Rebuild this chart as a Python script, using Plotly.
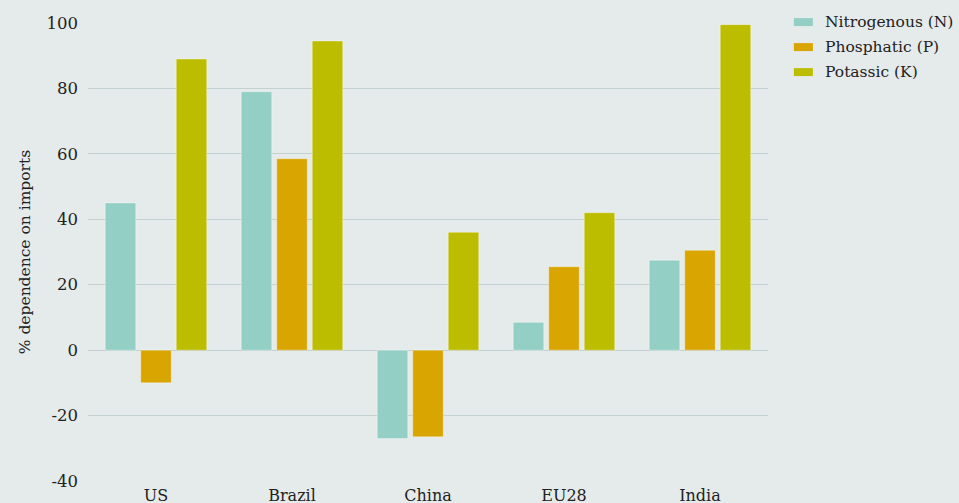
import plotly.graph_objects as go

# country groups and import dependence (%) per nutrient
COUNTRIES = ["US", "Brazil", "China", "EU28", "India"]
NITROGENOUS = [45, 79, -27, 8.5, 27.5]
PHOSPHATIC = [-10, 58.5, -26.5, 25.5, 30.5]
POTASSIC = [89, 94.5, 36, 42, 99.5]

Y_TICKS = [-40, -20, 0, 20, 40, 60, 80, 100]
Y_LABELS = ["-40", "-20", "0", "20", "40", "60", "80", "100"]

SERIES = [
    ("Nitrogenous (N)", NITROGENOUS, "#93cfc4"),
    ("Phosphatic (P)", PHOSPHATIC, "#d9a500"),
    ("Potassic (K)", POTASSIC, "#bdbd00"),
]

fig = go.Figure()
for name, vals, col in SERIES:
    fig.add_trace(go.Bar(
        x=COUNTRIES,
        y=vals,
        name=name,
        showlegend=False,
        marker=dict(color=col, line=dict(color="rgba(255,255,255,0.35)", width=1)),
    ))

# hand-drawn legend (wide flat swatches like the original)
for i, (name, vals, col) in enumerate(SERIES):
    yc = 1.002 - i * 0.0546
    fig.add_shape(type="rect", xref="paper", yref="paper",
                  x0=1.038, x1=1.066, y0=yc - 0.0087, y1=yc + 0.0087,
                  fillcolor=col, line=dict(width=0))
    fig.add_annotation(text=name, xref="paper", yref="paper",
                       x=1.081, y=yc, xanchor="left", yanchor="middle",
                       showarrow=False, font=dict(size=15.5))

fig.update_layout(
    width=959,
    height=503,
    barmode="group",
    bargap=0.217,
    bargroupgap=0.14,
    paper_bgcolor="#e5ebeb",
    plot_bgcolor="#e5ebeb",
    font=dict(family="DejaVu Serif", color="#222222", size=15),
    margin=dict(l=88, r=191, t=23, b=22, autoexpand=False),
    xaxis=dict(
        showgrid=False,
        showline=False,
        ticks="",
        tickfont=dict(size=16),
        ticklabelstandoff=3,
        automargin=False,
    ),
    yaxis=dict(
        range=[-40, 100],
        tickvals=Y_TICKS,
        ticktext=Y_LABELS,
        showgrid=True,
        gridcolor="#c3d1d1",
        gridwidth=1,
        zeroline=True,
        zerolinecolor="#c3d1d1",
        zerolinewidth=1,
        ticks="",
        tickfont=dict(size=16.5),
        ticklabelstandoff=9,
        automargin=False,
        title=dict(text="% dependence on imports", font=dict(size=15.5), standoff=12),
    ),
)

fig.write_html("out.html", config={"displayModeBar": False},
               post_script="document.body.style.margin='0';")
